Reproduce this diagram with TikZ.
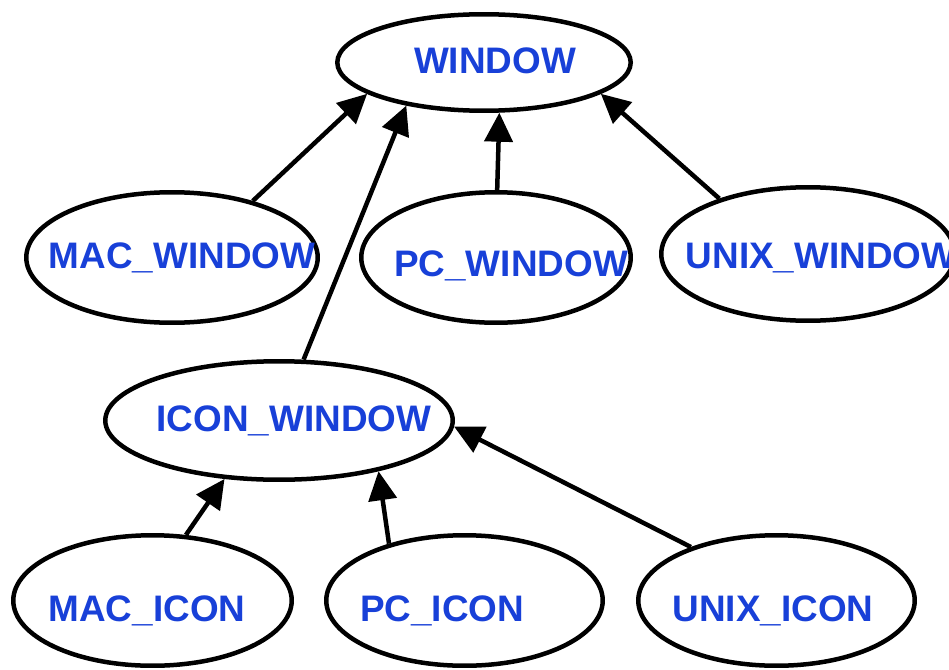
\documentclass[tikz,border=0pt]{standalone}
\usepackage{fontspec}
\setmainfont{Liberation Sans}
\usetikzlibrary{shapes.geometric,arrows.meta}
\definecolor{clsblue}{RGB}{24,64,216}
\begin{document}
\begin{tikzpicture}[x=0.02cm,y=-0.02cm,
  cls/.style={draw, ellipse, line width=0.09cm, inner sep=0pt},
  every label/.style={text=clsblue, font=\bfseries\fontsize{21}{25}\selectfont, text depth=0pt, inner sep=0pt},
  inh/.style={line width=0.09cm, -{Triangle[length=0.58cm,width=0.56cm]}}]
\useasboundingbox (0,0) rectangle (949,669);
\node[cls, minimum width=5.87cm, minimum height=1.93cm, label={[xshift=0.22cm,yshift=0.04cm]center:WINDOW}] (win) at (484,62.5) {};
\node[cls, minimum width=5.83cm, minimum height=2.61cm, label={[xshift=0.2cm,yshift=0.03cm]center:MAC\_WINDOW}] (macw) at (172,257.5) {};
\node[cls, minimum width=5.39cm, minimum height=2.61cm, label={[xshift=0.3cm,yshift=-0.12cm]center:PC\_WINDOW}] (pcw) at (496,257.5) {};
\node[cls, minimum width=5.87cm, minimum height=2.67cm, label={[xshift=0.26cm,yshift=-0.03cm]center:UNIX\_WINDOW}] (unixw) at (808,254) {};
\node[cls, minimum width=6.95cm, minimum height=2.37cm, label={[xshift=0.3cm,yshift=0.04cm]center:ICON\_WINDOW}] (iconw) at (279,420.5) {};
\node[cls, minimum width=5.57cm, minimum height=2.61cm, label={[xshift=-0.11cm,yshift=-0.17cm]center:MAC\_ICON}] (maci) at (152.5,600.5) {};
\node[cls, minimum width=5.53cm, minimum height=2.61cm, label={[xshift=-0.45cm,yshift=-0.17cm]center:PC\_ICON}] (pci) at (464.5,600.5) {};
\node[cls, minimum width=5.53cm, minimum height=2.61cm, label={[xshift=-0.07cm,yshift=-0.17cm]center:UNIX\_ICON}] (unixi) at (776.5,600.5) {};
% window classes
\draw[inh] (macw.35) -- (win.195);
\draw[inh] (iconw.68) -- (win.209);
\draw[inh] (pcw.89) -- (win.287);
\draw[inh] (unixw.148) -- (win.345);
% icon classes
\draw[inh] (maci.63) -- (iconw.227);
\draw[inh] (pci.143) -- (iconw.333);
\draw[inh] (unixi.148) -- (iconw.358);
\end{tikzpicture}
\end{document}
